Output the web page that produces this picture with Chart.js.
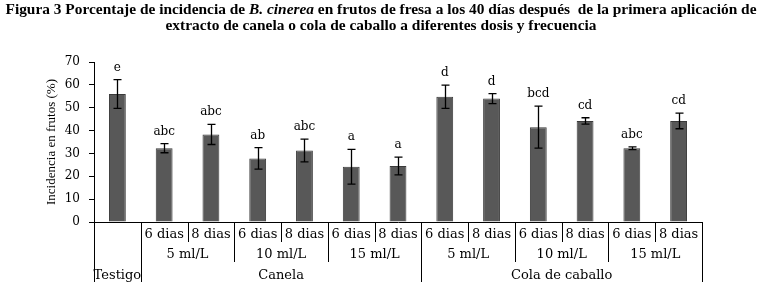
<!DOCTYPE html>
<html lang="es">
<head>
  <meta charset="utf-8">
  <title>Figura 3 | incidencia de B. cinerea</title>
  <script src="https://cdn.jsdelivr.net/npm/chart.js@4/dist/chart.umd.min.js"></script>
  <style>
    html, body { margin: 0; padding: 0; background: #fff; }
    .wrap { position: relative; width: 762px; height: 291px; }
    .titulo {
      position: absolute; left: 0; top: 2px; width: 762px;
      text-align: center; font: bold 14px 'Liberation Serif', serif;
      line-height: 16px; color: #000; white-space: nowrap;
      transform: scaleX(1.1); transform-origin: 381px 0;
    }
    canvas { position: absolute; left: 0; top: 0; }
  </style>
</head>
<body>
  <div class="wrap">
    <canvas id="chart-0" width="762" height="291"></canvas>
    <div class="titulo">Figura 3 Porcentaje de incidencia de <i>B. cinerea</i> en frutos de fresa a los 40 días después&nbsp; de la primera aplicación de<br>extracto de canela o cola de caballo a diferentes dosis y frecuencia</div>
  </div>

  <script>
    // one entry per bar
    let producto = ['Testigo', 'Canela', 'Canela', 'Canela', 'Canela', 'Canela', 'Canela',
      'Cola de caballo', 'Cola de caballo', 'Cola de caballo', 'Cola de caballo', 'Cola de caballo', 'Cola de caballo'];
    let dosis = ['', '5 ml/L', '5 ml/L', '10 ml/L', '10 ml/L', '15 ml/L', '15 ml/L',
      '5 ml/L', '5 ml/L', '10 ml/L', '10 ml/L', '15 ml/L', '15 ml/L'];
    let frecuencia = ['', '6 dias', '8 dias', '6 dias', '8 dias', '6 dias', '8 dias',
      '6 dias', '8 dias', '6 dias', '8 dias', '6 dias', '8 dias'];
    let incidencia = [56, 32.3, 38.3, 27.8, 31.3, 24.2, 24.5, 54.8, 54.0, 41.5, 44.2, 32.3, 44.2];
    let errorEst = [6.3, 2.0, 4.4, 4.7, 5.0, 7.6, 3.9, 5.1, 2.2, 9.2, 1.4, 0.6, 3.4];
    let letras = ['e', 'abc', 'abc', 'ab', 'abc', 'a', 'a', 'd', 'd', 'bcd', 'cd', 'abc', 'cd'];
    let yTicks = [0, 10, 20, 30, 40, 50, 60, 70];

    let serif = "'DejaVu Serif', serif";

    // error bars + significance letters
    let errorBars = {
      id: 'errorBars',
      afterDatasetsDraw(chart) {
        let ctx = chart.ctx;
        let meta = chart.getDatasetMeta(0);
        let y = chart.scales.y;
        ctx.save();
        ctx.strokeStyle = '#000';
        ctx.lineWidth = 1.3;
        ctx.fillStyle = '#000';
        ctx.font = '12px ' + serif;
        ctx.textAlign = 'center';
        ctx.textBaseline = 'alphabetic';
        meta.data.forEach(function(bar, i) {
          let top = y.getPixelForValue(incidencia[i] + errorEst[i]);
          let bot = y.getPixelForValue(incidencia[i] - errorEst[i]);
          let cx = Math.round(bar.x) + 0.5;
          ctx.beginPath();
          ctx.moveTo(cx, top); ctx.lineTo(cx, bot);
          ctx.moveTo(cx - 4, top); ctx.lineTo(cx + 4, top);
          ctx.moveTo(cx - 4, bot); ctx.lineTo(cx + 4, bot);
          ctx.stroke();
          ctx.fillText(letras[i], bar.x, top - 9);
        });
        ctx.restore();
      }
    };

    // three-level category axis under the bars
    let ejeMultinivel = {
      id: 'ejeMultinivel',
      afterDraw(chart) {
        let ctx = chart.ctx;
        let x = chart.scales.x;
        let base = chart.chartArea.bottom;
        let n = producto.length;
        let half = (x.getPixelForValue(1) - x.getPixelForValue(0)) / 2;
        let rows = [base + 13, base + 33, base + 54];
        let depth = [base + 20, base + 40, base + 60];

        ctx.save();
        ctx.strokeStyle = '#000';
        ctx.lineWidth = 1;
        ctx.fillStyle = '#000';
        ctx.font = '13px ' + serif;
        ctx.textAlign = 'center';
        ctx.textBaseline = 'middle';

        // separator lines
        for (let b = 0; b <= n; b++) {
          let px = Math.round(b < n ? x.getPixelForValue(b) - half : x.getPixelForValue(n - 1) + half) + 0.5;
          let d;
          if (b === 0 || b === n || producto[b] !== producto[b - 1]) d = depth[2];
          else if (dosis[b] !== dosis[b - 1]) d = depth[1];
          else d = depth[0];
          ctx.beginPath();
          ctx.moveTo(px, base);
          ctx.lineTo(px, d);
          ctx.stroke();
        }

        // grouped labels
        [frecuencia, dosis, producto].forEach(function(level, r) {
          let start = 0;
          for (let i = 1; i <= n; i++) {
            let brk = i === n || level[i] !== level[start] ||
              (r < 2 && producto[i] !== producto[start]) || r === 0;
            if (brk) {
              let l = x.getPixelForValue(start) - half;
              let rr = x.getPixelForValue(i - 1) + half;
              if (level[start]) ctx.fillText(level[start], (l + rr) / 2, rows[r]);
              start = i;
            }
          }
        });
        ctx.restore();
      }
    };

    let chart = new Chart('chart-0', {
      type: 'bar',
      data: {
        labels: producto.map(function(p, i) { return [frecuencia[i], dosis[i], p]; }),
        datasets: [{
          data: incidencia,
          backgroundColor: '#585858',
          borderColor: '#3a3a3a',
          borderWidth: 1,
          categoryPercentage: 1,
          barPercentage: 0.36
        }]
      },
      options: {
        responsive: false,
        animation: false,
        layout: { padding: { left: 0, right: 60, top: 62, bottom: 0 } },
        plugins: {
          legend: { display: false },
          tooltip: { enabled: false }
        },
        scales: {
          x: {
            ticks: { display: false },
            grid: { display: false },
            border: { display: true, color: '#000', width: 1 },
            afterFit(scale) { scale.height = 69; }
          },
          y: {
            min: 0,
            max: 70,
            afterBuildTicks(scale) { scale.ticks = yTicks.map(function(v) { return { value: v }; }); },
            ticks: { color: '#000', padding: 9, font: { family: serif, size: 12 } },
            grid: { drawOnChartArea: false, drawTicks: true, tickLength: 5, color: '#000' },
            border: { display: true, color: '#000', width: 1 },
            title: {
              display: true,
              text: 'Incidencia en frutos (%)',
              color: '#000',
              font: { family: "'Liberation Serif', serif", size: 13 },
              padding: { top: 44, bottom: 0 }
            },
            afterFit(scale) { scale.width = 94; }
          }
        }
      },
      plugins: [errorBars, ejeMultinivel]
    });
  </script>
</body>
</html>
